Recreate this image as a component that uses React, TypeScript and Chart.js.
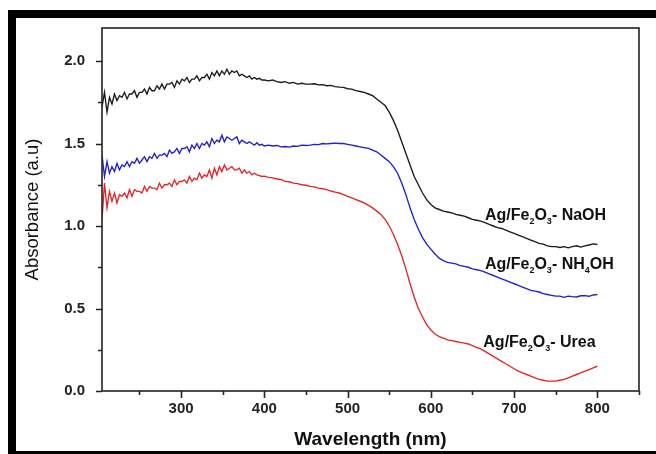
import React, { useEffect, useRef } from 'react';
import { Chart, registerables } from 'chart.js';
Chart.register(...registerables);

const wavelengths = [
  205, 208, 211, 214, 217, 220, 223, 226, 229, 232, 235, 238, 241, 244, 247, 250, 253, 256, 259, 262,
  265, 268, 271, 274, 277, 280, 283, 286, 289, 292, 295, 298, 301, 304, 307, 310, 313, 316, 319, 322,
  325, 328, 331, 334, 337, 340, 343, 346, 349, 352, 355, 358, 361, 364, 367, 370, 373, 376, 379, 382,
  385, 388, 391, 394, 397, 400,
  405, 410, 415, 420, 425, 430, 435, 440, 445, 450, 455, 460, 465, 470, 475, 480, 485, 490, 495, 500,
  505, 510, 515, 520, 525, 530, 535, 540, 545, 550, 555, 560, 565, 570, 575, 580, 585, 590, 595, 600,
  605, 610, 615, 620, 625, 630, 635, 640, 645, 650, 655, 660, 665, 670, 675, 680, 685, 690, 695, 700,
  705, 710, 715, 720, 725, 730, 735, 740, 745, 750, 755, 760, 765, 770, 775, 780, 785, 790, 795, 800,
];

const naohValues = [
  1.72, 1.81, 1.69, 1.78, 1.74, 1.80, 1.76, 1.79, 1.78, 1.81, 1.77, 1.80, 1.80, 1.82, 1.78, 1.81, 1.81, 1.83, 1.80, 1.84,
  1.82, 1.82, 1.85, 1.83, 1.86, 1.83, 1.86, 1.86, 1.87, 1.84, 1.88, 1.86, 1.89, 1.88, 1.90, 1.87, 1.89, 1.89, 1.91, 1.88,
  1.90, 1.90, 1.92, 1.89, 1.93, 1.91, 1.94, 1.91, 1.94, 1.92, 1.95, 1.92, 1.94, 1.93, 1.94, 1.91, 1.92, 1.91, 1.90, 1.91,
  1.89, 1.90, 1.89, 1.895, 1.885, 1.885,
  1.88, 1.885, 1.875, 1.87, 1.875, 1.865, 1.87, 1.86, 1.865, 1.86, 1.86, 1.862, 1.855, 1.857, 1.85, 1.852, 1.845, 1.842, 1.84, 1.832,
  1.83, 1.82, 1.815, 1.81, 1.80, 1.79, 1.77, 1.75, 1.73, 1.69, 1.64, 1.58, 1.51, 1.44, 1.37, 1.30, 1.25, 1.20, 1.16, 1.13,
  1.11, 1.10, 1.09, 1.085, 1.08, 1.07, 1.065, 1.06, 1.05, 1.04, 1.035, 1.03, 1.02, 1.01, 1.00, 0.99, 0.985, 0.975, 0.965, 0.955,
  0.945, 0.935, 0.925, 0.915, 0.905, 0.895, 0.89, 0.88, 0.875, 0.875, 0.87, 0.875, 0.868, 0.875, 0.88, 0.872, 0.88, 0.885, 0.892, 0.888,
];

const nh4ohValues = [
  1.43, 1.30, 1.39, 1.32, 1.36, 1.33, 1.38, 1.34, 1.37, 1.36, 1.39, 1.36, 1.39, 1.38, 1.41, 1.38, 1.40, 1.42, 1.39, 1.42,
  1.41, 1.44, 1.41, 1.43, 1.43, 1.44, 1.42, 1.46, 1.44, 1.45, 1.47, 1.44, 1.47, 1.47, 1.48, 1.45, 1.49, 1.47, 1.50, 1.47,
  1.50, 1.49, 1.51, 1.48, 1.53, 1.50, 1.52, 1.51, 1.55, 1.51, 1.54, 1.53, 1.52, 1.53, 1.54, 1.50, 1.52, 1.51, 1.50, 1.51,
  1.50, 1.49, 1.505, 1.49, 1.495, 1.485,
  1.49, 1.485, 1.488, 1.48, 1.482, 1.478, 1.485, 1.483, 1.49, 1.488, 1.49, 1.495, 1.493, 1.50, 1.498, 1.50, 1.502, 1.50, 1.50, 1.495,
  1.49, 1.485, 1.48, 1.475, 1.47, 1.46, 1.45, 1.43, 1.41, 1.39, 1.36, 1.32, 1.26, 1.19, 1.11, 1.04, 0.98, 0.93, 0.89, 0.86,
  0.83, 0.805, 0.79, 0.78, 0.775, 0.77, 0.76, 0.755, 0.75, 0.74, 0.735, 0.73, 0.72, 0.71, 0.70, 0.69, 0.68, 0.67, 0.66, 0.65,
  0.64, 0.63, 0.62, 0.61, 0.605, 0.60, 0.59, 0.585, 0.58, 0.575, 0.575, 0.568, 0.575, 0.572, 0.57, 0.577, 0.578, 0.574, 0.582, 0.585,
];

const ureaValues = [
  1.04, 1.26, 1.11, 1.21, 1.15, 1.20, 1.14, 1.19, 1.18, 1.20, 1.17, 1.22, 1.18, 1.22, 1.21, 1.21, 1.20, 1.24, 1.21, 1.24,
  1.23, 1.23, 1.22, 1.26, 1.23, 1.25, 1.25, 1.26, 1.24, 1.28, 1.25, 1.27, 1.27, 1.28, 1.26, 1.30, 1.27, 1.29, 1.28, 1.32,
  1.29, 1.31, 1.30, 1.34, 1.29, 1.35, 1.31, 1.36, 1.33, 1.37, 1.34, 1.35, 1.36, 1.34, 1.34, 1.35, 1.32, 1.34, 1.32, 1.33,
  1.31, 1.32, 1.31, 1.305, 1.30, 1.302,
  1.295, 1.292, 1.285, 1.282, 1.27, 1.268, 1.26, 1.257, 1.25, 1.247, 1.24, 1.237, 1.23, 1.226, 1.22, 1.212, 1.205, 1.20, 1.19, 1.18,
  1.17, 1.16, 1.15, 1.14, 1.125, 1.11, 1.09, 1.07, 1.04, 1.00, 0.95, 0.89, 0.82, 0.74, 0.65, 0.57, 0.50, 0.45, 0.40, 0.37,
  0.345, 0.33, 0.32, 0.31, 0.305, 0.30, 0.295, 0.29, 0.285, 0.275, 0.265, 0.255, 0.24, 0.225, 0.21, 0.195, 0.18, 0.165, 0.15, 0.135,
  0.12, 0.11, 0.10, 0.09, 0.08, 0.07, 0.065, 0.06, 0.06, 0.06, 0.065, 0.07, 0.08, 0.09, 0.10, 0.11, 0.12, 0.13, 0.14, 0.15,
];

const xTickValues = [300, 400, 500, 600, 700, 800];
const xMinorTickValues = [250, 350, 450, 550, 650, 750, 850];
const yTickValues = [0, 0.5, 1.0, 1.5, 2.0];
const yMinorTickValues = [0.25, 0.75, 1.25, 1.75];

// series label pieces: [text, isSubscript]
const naohLabel: [string, boolean][] = [['Ag/Fe', false], ['2', true], ['O', false], ['3', true], ['- NaOH', false]];
const nh4ohLabel: [string, boolean][] = [['Ag/Fe', false], ['2', true], ['O', false], ['3', true], ['- NH', false], ['4', true], ['OH', false]];
const ureaLabel: [string, boolean][] = [['Ag/Fe', false], ['2', true], ['O', false], ['3', true], ['- Urea', false]];
const labelAnchorX = [665, 665, 663];
const labelAnchorY = [1.036, 0.742, 0.264];

const FONT = '"Liberation Sans", Arial, Helvetica, sans-serif';
const AXIS = '#222222';

const framePlugin = {
  id: 'frame',
  beforeDraw(chart: any) {
    const ctx = chart.ctx;
    ctx.save();
    ctx.fillStyle = '#ffffff';
    ctx.fillRect(0, 0, chart.width, chart.height);
    ctx.fillStyle = '#000000';
    ctx.fillRect(8, 10, chart.width - 8, 8);
    ctx.fillRect(8, 10, 8, chart.height - 10);
    ctx.fillRect(8, 451, chart.width - 8, 3);
    ctx.restore();
  },
  afterDraw(chart: any) {
    const ctx = chart.ctx;
    const { left, right, top, bottom } = chart.chartArea;
    const xs = chart.scales.x;
    const ys = chart.scales.y;
    ctx.save();
    ctx.strokeStyle = AXIS;
    ctx.lineWidth = 1.6;
    ctx.strokeRect(left, top, right - left, bottom - top);
    ctx.beginPath();
    xTickValues.forEach((v) => {
      const px = Math.round(xs.getPixelForValue(v)) + 0.5;
      ctx.moveTo(px, bottom);
      ctx.lineTo(px, bottom + 7);
    });
    xMinorTickValues.forEach((v) => {
      const px = Math.round(xs.getPixelForValue(v)) + 0.5;
      ctx.moveTo(px, bottom);
      ctx.lineTo(px, bottom + 4);
    });
    yTickValues.forEach((v) => {
      const py = Math.round(ys.getPixelForValue(v)) + 0.5;
      ctx.moveTo(left, py);
      ctx.lineTo(left - 6, py);
    });
    yMinorTickValues.forEach((v) => {
      const py = Math.round(ys.getPixelForValue(v)) + 0.5;
      ctx.moveTo(left, py);
      ctx.lineTo(left - 4, py);
    });
    ctx.stroke();

    // series labels
    const labels = [naohLabel, nh4ohLabel, ureaLabel];
    ctx.fillStyle = '#111111';
    ctx.textBaseline = 'alphabetic';
    ctx.textAlign = 'left';
    labels.forEach((parts, i) => {
      let x = xs.getPixelForValue(labelAnchorX[i]);
      const y = ys.getPixelForValue(labelAnchorY[i]);
      parts.forEach(([t, sub]) => {
        ctx.font = sub ? `bold 9px ${FONT}` : `bold 16px ${FONT}`;
        ctx.fillText(t, x, sub ? y + 4 : y);
        x += ctx.measureText(t).width;
      });
    });
    ctx.restore();
  },
};

export default function App() {
  const canvasRef = useRef<HTMLCanvasElement | null>(null);

  useEffect(() => {
    const canvas = canvasRef.current;
    if (!canvas) return;
    const mk = (vals: number[]) => wavelengths.map((w, i) => ({ x: w, y: vals[i] }));
    const chart = new Chart(canvas, {
      type: 'line',
      data: {
        datasets: [
          { label: 'Ag/Fe2O3- NaOH', data: mk(naohValues), borderColor: '#1a1a1a', borderWidth: 1.35, pointRadius: 0, fill: false },
          { label: 'Ag/Fe2O3- NH4OH', data: mk(nh4ohValues), borderColor: '#1f1fd0', borderWidth: 1.35, pointRadius: 0, fill: false },
          { label: 'Ag/Fe2O3- Urea', data: mk(ureaValues), borderColor: '#e0262a', borderWidth: 1.35, pointRadius: 0, fill: false },
        ],
      },
      options: {
        animation: false,
        responsive: false,
        devicePixelRatio: 1,
        layout: { padding: { top: 28, right: 17, bottom: 0, left: 0 } },
        plugins: { legend: { display: false }, tooltip: { enabled: false } },
        scales: {
          x: {
            type: 'linear',
            min: 205,
            max: 850,
            grid: { display: false, drawTicks: false },
            border: { display: false },
            afterBuildTicks: (s: any) => {
              s.ticks = xTickValues.map((v) => ({ value: v }));
            },
            afterFit: (s: any) => {
              s.height = 63;
            },
            ticks: {
              padding: 9,
              autoSkip: false,
              maxRotation: 0,
              color: AXIS,
              font: { family: FONT, size: 15, weight: 'bold' },
              callback: (v: any) => String(v),
            },
            title: {
              display: true,
              text: 'Wavelength (nm)',
              color: '#111111',
              font: { family: FONT, size: 19, weight: 'bold' },
              padding: { top: 0, bottom: 3 },
            },
          },
          y: {
            type: 'linear',
            min: 0,
            max: 2.2,
            grid: { display: false, drawTicks: false },
            border: { display: false },
            afterBuildTicks: (s: any) => {
              s.ticks = yTickValues.map((v) => ({ value: v }));
            },
            afterFit: (s: any) => {
              s.width = 102;
            },
            ticks: {
              padding: 17,
              autoSkip: false,
              color: AXIS,
              font: { family: FONT, size: 15, weight: 'bold' },
              callback: (v: any) => Number(v).toFixed(1),
            },
            title: {
              display: true,
              text: 'Absorbance (a.u)',
              color: '#111111',
              font: { family: FONT, size: 18.5, weight: 'normal' },
              padding: { top: 22, bottom: 0 },
            },
          },
        },
      },
      plugins: [framePlugin],
    } as any);
    return () => chart.destroy();
  }, []);

  return (
    <div style={{ position: 'absolute', left: 0, top: 0, width: 656, height: 454 }}>
      <canvas ref={canvasRef} width={656} height={454} style={{ display: 'block', width: 656, height: 454 }} />
    </div>
  );
}
